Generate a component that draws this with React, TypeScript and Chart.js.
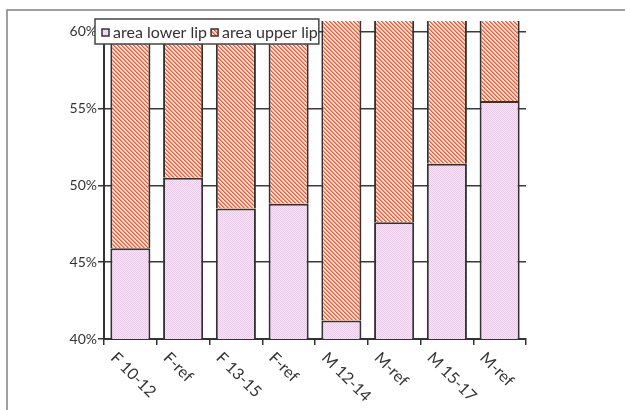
import React, { useEffect, useRef } from "react";
import { Chart, registerables } from "chart.js";

Chart.register(...registerables);

const categories = ["F 10-12", "F-ref", "F 13-15", "F-ref", "M 12-14", "M-ref", "M 15-17", "M-ref"];
const lowerLip = [45.9, 50.5, 48.5, 48.8, 41.2, 47.6, 51.4, 55.5];
const upperLip = [54.1, 49.5, 51.5, 51.2, 58.8, 52.4, 48.6, 44.5];
const seriesNames = ["area lower lip", "area upper lip"];
const yTicks = [40, 45, 50, 55, 60];

const FONT = "Lato, 'Open Sans', sans-serif";

function makePinkPattern(): CanvasPattern | string {
  const c = document.createElement("canvas");
  c.width = 2;
  c.height = 2;
  const g = c.getContext("2d");
  if (!g) return "#eed8ee";
  g.fillStyle = "#f5e6f4";
  g.fillRect(0, 0, 2, 2);
  g.fillStyle = "#e8cce8";
  g.fillRect(0, 0, 1, 1);
  g.fillRect(1, 1, 1, 1);
  return g.createPattern(c, "repeat") || "#eed8ee";
}

function makeHatchPattern(): CanvasPattern | string {
  const c = document.createElement("canvas");
  const n = 4;
  c.width = n;
  c.height = n;
  const g = c.getContext("2d");
  if (!g) return "#f5a088";
  g.fillStyle = "#fde2d8";
  g.fillRect(0, 0, n, n);
  for (let y = 0; y < n; y++) {
    for (let x = 0; x < n; x++) {
      const m = (((x - y) % n) + n) % n;
      if (m === 0) {
        g.fillStyle = "#f05a36";
        g.fillRect(x, y, 1, 1);
      } else if (m === 1) {
        g.fillStyle = "#f6906f";
        g.fillRect(x, y, 1, 1);
      }
    }
  }
  return g.createPattern(c, "repeat") || "#f5a088";
}

export default function App() {
  const ref = useRef<HTMLCanvasElement | null>(null);

  useEffect(() => {
    const canvas = ref.current;
    if (!canvas) return;
    const pink = makePinkPattern();
    const hatch = makeHatchPattern();

    const framePlugin = {
      id: "frame",
      beforeDraw(chart: any) {
        const ctx = chart.ctx;
        ctx.save();
        ctx.fillStyle = "#ffffff";
        ctx.fillRect(0, 0, chart.width, chart.height);
        ctx.strokeStyle = "#808080";
        ctx.lineWidth = 1.5;
        ctx.beginPath();
        ctx.moveTo(7, chart.height + 5);
        ctx.lineTo(7, 10);
        ctx.lineTo(chart.width + 5, 10);
        ctx.stroke();
        ctx.restore();
      },
    };

    const xLabelPlugin = {
      id: "xlabels",
      afterDraw(chart: any) {
        const ctx = chart.ctx;
        const xs = chart.scales.x;
        const bottom = chart.chartArea.bottom;
        ctx.save();
        ctx.font = `16px ${FONT}`;
        ctx.fillStyle = "#333333";
        ctx.textAlign = "left";
        ctx.textBaseline = "middle";
        categories.forEach((lab, i) => {
          const x = xs.getPixelForTick(i);
          ctx.save();
          ctx.translate(x - 17, bottom + 16);
          ctx.rotate(Math.PI / 4);
          ctx.fillText(lab, 0, 0);
          ctx.restore();
        });
        ctx.restore();
      },
    };

    const legendPlugin = {
      id: "boxlegend",
      afterDraw(chart: any) {
        const ctx = chart.ctx;
        ctx.save();
        ctx.font = `16px ${FONT}`;
        const fills = [pink, hatch];
        const left = 95;
        const top = 19;
        const h = 25;
        let x = left + 7;
        const items: any[] = [];
        seriesNames.forEach((name, i) => {
          const w = ctx.measureText(name).width;
          items.push({ x, name, fill: fills[i], w });
          x += 11 + w + 4;
        });
        const right = x - 3;
        ctx.fillStyle = "#ffffff";
        ctx.fillRect(left, top, right - left, h);
        ctx.strokeStyle = "#444444";
        ctx.lineWidth = 1.5;
        ctx.strokeRect(left, top, right - left, h);
        ctx.textAlign = "left";
        ctx.textBaseline = "middle";
        items.forEach((it) => {
          ctx.fillStyle = it.fill;
          ctx.fillRect(it.x, top + 10, 7, 7);
          ctx.strokeStyle = "#333333";
          ctx.lineWidth = 1.5;
          ctx.strokeRect(it.x, top + 10, 7, 7);
          ctx.fillStyle = "#333333";
          ctx.fillText(it.name, it.x + 11, top + 13.5);
        });
        ctx.restore();
      },
    };

    const chart = new Chart(canvas, {
      type: "bar",
      data: {
        labels: categories,
        datasets: [
          {
            label: seriesNames[0],
            data: lowerLip,
            backgroundColor: pink as any,
            borderColor: "#333333",
            borderWidth: 2,
            borderSkipped: false,
            clip: 0,
          },
          {
            label: seriesNames[1],
            data: upperLip,
            backgroundColor: hatch as any,
            borderColor: "#333333",
            borderWidth: 2,
            borderSkipped: "start",
            clip: 0,
          },
        ],
      },
      options: {
        responsive: false,
        animation: false,
        devicePixelRatio: 1,
        layout: { padding: { left: 0, right: 99, top: 21, bottom: 0 } },
        datasets: { bar: { categoryPercentage: 1, barPercentage: 0.76 } },
        plugins: {
          legend: { display: false },
          tooltip: { enabled: false },
          title: { display: false },
        },
        scales: {
          x: {
            stacked: true,
            offset: true,
            border: { display: true, color: "#333333", width: 2 },
            grid: {
              display: true,
              offset: true,
              drawOnChartArea: false,
              drawTicks: true,
              tickLength: 6,
              color: "#333333",
              lineWidth: 1.5,
            },
            ticks: { display: false },
            afterFit(s: any) {
              s.height = 71;
            },
          },
          y: {
            stacked: true,
            min: 40,
            max: 60.7,
            border: { display: true, color: "#333333", width: 2 },
            grid: {
              color: "#3a3a3a",
              lineWidth: 1.5,
              tickLength: 6,
              drawTicks: true,
            },
            afterBuildTicks(s: any) {
              s.ticks = yTicks.map((v) => ({ value: v }));
            },
            ticks: {
              includeBounds: false,
              padding: 1,
              color: "#333333",
              font: { family: FONT, size: 14 },
              callback: (v: any) => `${v}%`,
            },
            afterFit(s: any) {
              s.width = 104;
            },
          },
        },
      },
      plugins: [framePlugin, xLabelPlugin, legendPlugin],
    });

    return () => chart.destroy();
  }, []);

  return (
    <div style={{ position: "fixed", left: 0, top: 0, width: 625, height: 410, background: "#fff" }}>
      <canvas ref={ref} width={625} height={410} style={{ display: "block", width: 625, height: 410 }} />
    </div>
  );
}
